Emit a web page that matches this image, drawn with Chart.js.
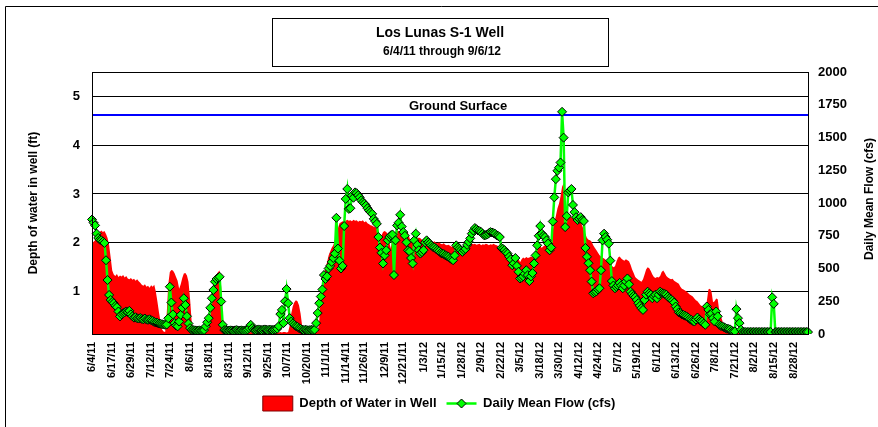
<!DOCTYPE html>
<html>
<head>
<meta charset="utf-8">
<script src="https://cdn.jsdelivr.net/npm/chart.js@4.4.1/dist/chart.umd.min.js"></script>
<style>
  html, body { margin: 0; padding: 0; background: #fff; }
  #wrap { position: relative; width: 878px; height: 427px; }
</style>
</head>
<body>
<div id="wrap"><canvas id="chart" width="878" height="427"></canvas></div>
<script>
// x axis labels shown under the plot
const tickLabels = ['6/4/11','6/17/11','6/29/11','7/12/11','7/24/11','8/6/11','8/18/11','8/31/11','9/12/11','9/25/11',
  '10/7/11','10/20/11','11/1/11','11/14/11','11/26/11','12/9/11','12/21/11','1/3/12','1/15/12','1/28/12',
  '2/9/12','2/22/12','3/5/12','3/18/12','3/30/12','4/12/12','4/24/12','5/7/12','5/19/12','6/1/12',
  '6/13/12','6/26/12','7/8/12','7/21/12','8/2/12','8/15/12','8/28/12'];

// depth of water in well (ft), daily from 6/4/11
const depth = [
  2.00,2.02,2.05,2.18,2.20,2.22,2.25,2.22,2.24,2.18,
  2.10,1.95,1.70,1.43,1.35,1.32,1.36,1.30,1.33,1.31,
  1.34,1.29,1.32,1.27,1.25,1.28,1.24,1.26,1.22,1.25,
  1.21,1.18,1.14,1.12,1.15,1.10,1.12,1.08,1.13,1.10,
  1.14,1.00,0.80,0.58,0.38,0.22,0.18,0.17,0.55,1.15,
  1.40,1.44,1.43,1.38,1.30,1.22,1.06,1.15,1.28,1.37,
  1.38,1.33,1.20,0.85,0.40,0.19,0.17,0.17,0.16,0.17,
  0.16,0.17,0.16,0.17,0.18,0.25,0.50,0.85,1.10,1.25,
  1.35,1.40,1.43,1.10,0.30,0.18,0.17,0.16,0.17,0.16,
  0.17,0.16,0.17,0.17,0.16,0.17,0.16,0.17,0.17,0.16,
  0.17,0.16,0.17,0.16,0.17,0.17,0.16,0.17,0.16,0.17,
  0.16,0.17,0.17,0.16,0.17,0.16,0.17,0.17,0.16,0.17,
  0.16,0.17,0.16,0.17,0.17,0.16,0.17,0.30,0.55,0.70,
  0.78,0.82,0.80,0.72,0.55,0.30,0.18,0.17,0.16,0.17,
  0.17,0.16,0.17,0.16,0.17,0.17,0.40,0.92,1.20,1.38,
  1.47,1.60,1.74,1.82,1.90,1.95,2.05,2.15,2.30,2.40,
  2.42,2.44,2.42,2.45,2.47,2.45,2.46,2.44,2.47,2.45,
  2.46,2.43,2.45,2.44,2.46,2.42,2.44,2.40,2.38,2.36,
  2.35,2.33,2.32,2.30,2.20,2.08,2.15,2.22,2.24,2.22,
  2.18,2.00,1.88,2.10,2.20,2.22,2.25,2.24,2.22,2.25,
  2.23,2.21,2.24,2.20,2.10,2.00,2.08,2.12,2.10,2.08,
  2.11,2.09,2.06,2.05,2.07,2.04,2.03,2.05,2.02,2.01,
  2.03,2.00,1.99,2.01,1.98,1.97,1.99,1.96,1.95,1.96,
  1.94,1.92,1.93,1.90,1.91,1.89,1.90,1.88,1.84,1.81,
  1.82,1.81,1.90,1.96,1.98,1.97,1.98,1.96,1.97,1.98,
  1.95,1.97,1.96,1.98,1.97,1.95,1.97,1.96,1.98,1.96,
  1.95,1.93,1.88,1.81,1.80,1.78,1.79,1.76,1.75,1.74,
  1.73,1.75,1.74,1.72,1.68,1.60,1.66,1.70,1.68,1.71,
  1.69,1.70,1.72,1.70,1.74,1.80,1.86,1.90,1.92,1.90,
  1.93,1.95,1.94,1.96,2.00,2.08,2.25,2.42,2.55,2.70,
  2.80,2.95,3.15,3.22,2.85,2.60,2.55,2.56,2.52,2.54,
  2.50,2.48,2.50,2.45,2.42,2.35,2.25,2.18,2.10,2.06,
  2.05,2.02,1.95,1.90,1.85,1.80,1.75,1.72,1.70,1.68,
  1.65,1.62,1.60,1.56,1.53,1.50,1.52,1.62,1.70,1.72,
  1.68,1.65,1.63,1.66,1.64,1.62,1.55,1.45,1.38,1.30,
  1.27,1.24,1.22,1.20,1.25,1.35,1.45,1.50,1.48,1.42,
  1.35,1.30,1.28,1.30,1.29,1.32,1.40,1.43,1.38,1.32,
  1.29,1.27,1.25,1.26,1.22,1.20,1.18,1.16,1.10,1.06,
  1.04,1.02,1.00,0.97,0.94,0.92,0.90,0.86,0.82,0.80,
  0.76,0.72,0.70,0.67,0.65,0.80,1.04,1.06,1.00,0.78,
  0.80,0.86,0.84,0.60,0.50,0.40,0.22,0.16,0.15,0.15,
  0.15,0.15,0.15,0.15,0.15,0.15,0.15,0.15,0.15,0.15,
  0.15,0.15,0.15,0.15,0.15,0.15,0.15,0.15,0.15,0.15,
  0.15,0.15,0.15,0.15,0.15,0.15,0.15,0.15,0.15,0.15,
  0.15,0.15,0.15,0.15,0.15,0.15,0.15,0.15,0.15,0.15,
  0.15,0.15,0.15,0.15,0.15,0.15,0.15,0.15,0.15,0.15,
  0.15
];

// daily mean flow (cfs)
const flow = [
  874,850,829,766,733,720,715,705,695,563,
  412,298,260,245,235,215,205,172,134,150,
  159,165,172,168,177,150,135,125,128,120,
  118,122,115,112,118,110,108,112,105,100,
  92,88,85,80,78,75,72,70,72,120,
  361,240,150,83,65,58,95,146,200,273,
  222,136,80,45,32,30,28,27,26,28,
  25,27,30,58,90,121,200,273,336,399,
  420,430,437,248,70,30,28,27,26,28,
  27,25,28,30,27,26,28,25,27,30,
  35,45,70,45,32,30,33,35,32,30,
  33,35,32,30,34,32,30,33,35,40,
  60,152,184,83,250,343,235,121,95,80,
  70,60,55,45,40,33,30,32,30,28,
  30,32,30,33,83,160,235,286,340,450,
  420,440,500,520,550,580,614,887,652,560,
  500,520,824,1031,1107,955,960,1056,1040,1081,
  1075,1060,1043,1020,1006,995,980,960,942,930,
  917,879,860,841,740,660,620,538,600,640,
  715,740,753,760,450,715,829,850,910,820,
  778,750,700,639,630,580,538,715,766,680,
  640,614,625,640,700,715,700,690,675,665,
  660,650,640,632,620,614,610,601,595,590,
  580,570,563,600,677,660,650,640,627,640,
  650,680,703,730,766,790,809,800,790,785,
  778,765,753,755,760,770,778,775,770,765,
  753,748,740,657,650,640,625,614,590,570,
  525,540,580,520,475,424,430,440,460,487,
  450,404,440,465,538,600,677,750,824,766,
  750,740,715,690,639,660,859,1043,1182,1246,
  1270,1309,1696,1499,816,900,1081,1095,1107,985,
  930,892,870,880,892,870,862,657,589,540,
  487,400,311,318,325,340,349,487,715,766,
  740,720,690,560,404,370,349,360,370,390,
  370,349,370,400,424,380,323,305,290,280,
  260,235,215,197,184,260,300,323,310,300,
  273,290,300,273,300,323,315,310,305,300,
  285,273,265,255,240,210,190,165,159,150,
  145,140,134,125,115,108,100,95,110,126,
  110,100,95,80,70,210,184,150,155,121,
  95,172,135,70,62,58,52,45,40,38,
  35,25,20,20,190,121,83,33,15,15,
  15,15,15,15,15,15,15,15,15,15,
  15,15,15,15,15,15,15,280,230,15,
  15,15,15,15,15,15,15,15,15,15,
  15,15,15,15,15,15,15,15,15,15,
  15
];

const groundSurface = 4.62;

// one category per day, 6/4/11 .. 9/6/12
const categories = depth.map((_, i) => {
  const d = new Date(2011, 5, 4 + i);
  return (d.getMonth() + 1) + '/' + d.getDate() + '/' + String(d.getFullYear()).slice(2);
});

const FONT = "'Liberation Sans', Arial, sans-serif";

const extras = {
  id: 'extras',
  afterDraw(chart) {
    const ctx = chart.ctx;
    const a = chart.chartArea;
    ctx.save();
    // outer frame
    ctx.strokeStyle = '#000';
    ctx.lineWidth = 1;
    ctx.beginPath();
    ctx.moveTo(5.5, 427); ctx.lineTo(5.5, 6.5); ctx.lineTo(878, 6.5);
    ctx.stroke();
    // plot border
    ctx.strokeRect(Math.round(a.left) + 0.5, Math.round(a.top) + 0.5, Math.round(a.right - a.left), Math.round(a.bottom - a.top));
    // title box
    ctx.strokeRect(272.5, 18.5, 336, 48);
    ctx.fillStyle = '#000';
    ctx.textAlign = 'center';
    ctx.textBaseline = 'middle';
    ctx.font = 'bold 14px ' + FONT;
    ctx.fillText('Los Lunas S-1 Well', 440, 33);
    ctx.font = 'bold 12px ' + FONT;
    ctx.fillText('6/4/11 through 9/6/12', 442, 52);
    // ground surface label
    const gy = chart.scales.y.getPixelForValue(groundSurface);
    ctx.font = 'bold 13px ' + FONT;
    ctx.fillText('Ground Surface', 458, gy - 9);
    // right axis title
    ctx.translate(870, (a.top + a.bottom) / 2 - 4);
    ctx.rotate(-Math.PI / 2);
    ctx.font = 'bold 12px ' + FONT;
    ctx.fillText('Daily Mean Flow (cfs)', 0, 0);
    ctx.restore();
    // legend icon for the flow series: line with a diamond
    const hb = chart.legend.legendHitBoxes[1];
    if (hb) {
      const cy = hb.top + hb.height / 2;
      ctx.save();
      ctx.strokeStyle = '#00ff00';
      ctx.lineWidth = 2.5;
      ctx.beginPath();
      ctx.moveTo(hb.left, cy); ctx.lineTo(hb.left + 30, cy);
      ctx.stroke();
      const cx = hb.left + 15;
      ctx.beginPath();
      ctx.moveTo(cx, cy - 4.5); ctx.lineTo(cx + 4.5, cy); ctx.lineTo(cx, cy + 4.5); ctx.lineTo(cx - 4.5, cy);
      ctx.closePath();
      ctx.fillStyle = '#00ff00';
      ctx.fill();
      ctx.strokeStyle = '#000';
      ctx.lineWidth = 1;
      ctx.stroke();
      ctx.restore();
    }
  }
};

new Chart(document.getElementById('chart'), {
  type: 'line',
  data: {
    labels: categories,
    datasets: [{
      label: 'Depth of Water in Well',
      data: depth,
      yAxisID: 'y',
      backgroundColor: '#ff0000',
      borderColor: '#ff0000',
      borderWidth: 0,
      pointRadius: 0,
      fill: 'start',
      order: 3
    }, {
      label: 'Daily Mean Flow (cfs)',
      data: flow,
      yAxisID: 'y1',
      borderColor: '#00ff00',
      borderWidth: 2.5,
      backgroundColor: '#00ff00',
      pointStyle: 'rectRot',
      pointRadius: 4.5,
      pointBorderColor: '#000',
      pointBorderWidth: 1,
      pointBackgroundColor: '#00ff00',
      fill: false,
      order: 1
    }, {
      label: 'Ground Surface',
      data: categories.map(() => groundSurface),
      yAxisID: 'y',
      borderColor: '#0000ff',
      borderWidth: 2,
      pointRadius: 0,
      fill: false,
      order: 2
    }]
  },
  options: {
    responsive: false,
    animation: false,
    layout: { padding: { top: 72, bottom: 6, left: 0, right: 0 } },
    plugins: {
      tooltip: { enabled: false },
      legend: {
        position: 'bottom',
        labels: {
          color: '#000',
          font: { family: FONT, size: 13, weight: 'bold' },
          boxWidth: 30,
          boxHeight: 15,
          padding: 10,
          sort: (a, b) => a.datasetIndex - b.datasetIndex,
          filter: item => item.datasetIndex < 2,
          generateLabels(chart) {
            const items = Chart.defaults.plugins.legend.labels.generateLabels(chart);
            items.forEach(it => {
              if (it.datasetIndex === 0) {
                it.fillStyle = '#ff0000';
                it.strokeStyle = '#800000';
                it.lineWidth = 1;
              } else if (it.datasetIndex === 1) {
                it.fillStyle = 'rgba(0,0,0,0)';
                it.strokeStyle = 'rgba(0,0,0,0)';
                it.lineWidth = 0;
              }
            });
            return items;
          }
        }
      }
    },
    scales: {
      x: {
        offset: false,
        grid: { display: false, drawTicks: false },
        border: { display: false },
        ticks: {
          autoSkip: false,
          minRotation: 90,
          maxRotation: 90,
          padding: 8,
          color: '#000',
          font: { family: FONT, size: 11, weight: 'bold' }
        },
        afterBuildTicks: s => { s.ticks = s.ticks.filter(t => tickLabels.includes(categories[t.value])); },
        afterFit: s => { s.height = 52; }
      },
      y: {
        position: 'left',
        min: 0.13,
        max: 5.5,
        grid: { color: '#000', drawTicks: false },
        border: { display: false },
        ticks: { padding: 12, color: '#000', font: { family: FONT, size: 13, weight: 'bold' } },
        title: {
          display: true,
          text: 'Depth of water in well (ft)',
          color: '#000',
          font: { family: FONT, size: 12, weight: 'bold' },
          padding: { top: 26, bottom: 0 }
        },
        afterBuildTicks: s => { s.ticks = [1, 2, 3, 4, 5].map(v => ({ value: v })); },
        afterFit: s => { s.width = 92; }
      },
      y1: {
        position: 'right',
        min: 0,
        max: 2000,
        grid: { display: false, drawTicks: false },
        border: { display: false },
        ticks: {
          stepSize: 250,
          padding: 10,
          color: '#000',
          font: { family: FONT, size: 13, weight: 'bold' },
          callback: v => String(v)
        },
        afterFit: s => { s.width = 70; }
      }
    }
  },
  plugins: [extras]
});
</script>
</body>
</html>
